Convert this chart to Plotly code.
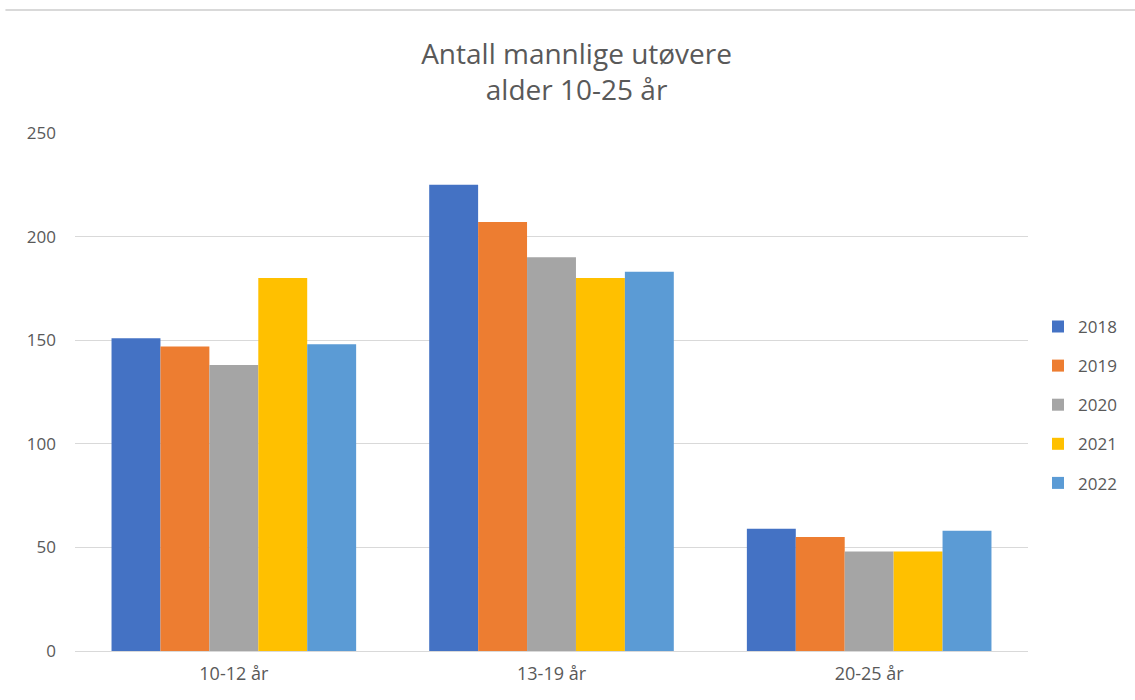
import plotly.graph_objects as go

categories = ["10-12 år", "13-19 år", "20-25 år"]
years = ["2018", "2019", "2020", "2021", "2022"]
v2018 = [151, 225, 59]
v2019 = [147, 207, 55]
v2020 = [138, 190, 48]
v2021 = [180, 180, 48]
v2022 = [148, 183, 58]
colors = ["#4472C4", "#ED7D31", "#A5A5A5", "#FFC000", "#5B9BD5"]

series = [v2018, v2019, v2020, v2021, v2022]

fig = go.Figure()
for yr, vals, c in zip(years, series, colors):
    fig.add_trace(go.Bar(x=categories, y=vals, name=yr, marker_color=c,
                         marker_line_width=0, legendgroup=yr))

FONT = "Open Sans, Noto Sans, sans-serif"
fig.update_layout(
    width=1135, height=700, autosize=False,
    paper_bgcolor="white", plot_bgcolor="white",
    margin=dict(l=75, r=107, t=133, b=49),
    barmode="group", bargap=0.23, bargroupgap=0,
    title=dict(text="Antall mannlige utøvere<br>alder 10-25 år",
               x=0.508, xref="container", xanchor="center",
               y=(700 - 64) / 700, yref="container", yanchor="middle",
               font=dict(family=FONT, size=28, color="#595959")),
    font=dict(family=FONT, size=17, color="#595959"),
    legend=dict(x=1.0105, xanchor="left", y=0.475, yanchor="middle",
                traceorder="grouped", tracegroupgap=14, borderwidth=0,
                font=dict(size=17, color="#595959"), itemwidth=30),
    showlegend=True,
)
fig.update_xaxes(showline=True, linecolor="#d9d9d9", linewidth=1,
                 ticks="", ticklabelstandoff=6,
                 tickfont=dict(size=18, color="#595959"))
fig.update_yaxes(range=[0, 250], dtick=50, showgrid=True, gridcolor="#d9d9d9",
                 gridwidth=1, zeroline=False, ticks="", ticklabelstandoff=18,
                 tickfont=dict(size=17, color="#595959"))
fig.add_shape(type="line", xref="paper", yref="paper",
              x0=-0.073, x1=1.12, y0=1.2375, y1=1.2375,
              line=dict(color="#d9d9d9", width=2))

fig.write_html(
    "out.html",
    config={"displayModeBar": False, "responsive": False},
    post_script=(
        "document.documentElement.style.overflow='hidden';"
        "document.body.style.margin='0';document.body.style.overflow='hidden';"
        "var gd=document.getElementById('{plot_id}');"
        "Plotly.relayout(gd,{width:1135,height:700});"
    ),
)
